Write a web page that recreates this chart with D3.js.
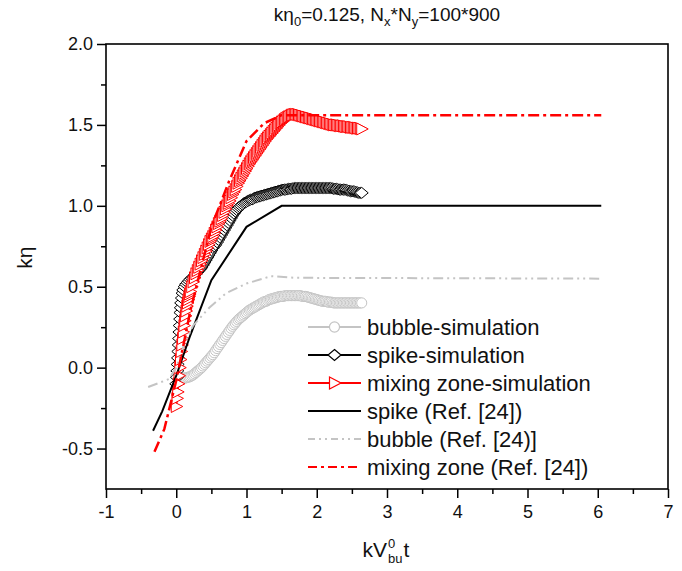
<!DOCTYPE html>
<html>
<head>
<meta charset="utf-8">
<script src="https://cdn.jsdelivr.net/npm/d3@7"></script>
<style>
  body { margin: 0; background: #fff; }
  svg { font-family: "Liberation Sans", Arial, sans-serif; }
</style>
</head>
<body>
<div id="chart"></div>
<script>
// ---- data ----
var xMajor = [-1, 0, 1, 2, 3, 4, 5, 6, 7];
var xMinor = [-0.5, 0.5, 1.5, 2.5, 3.5, 4.5, 5.5, 6.5];
var yMajor = [-0.5, 0.0, 0.5, 1.0, 1.5, 2.0];
var yMinor = [-0.25, 0.25, 0.75, 1.25, 1.75];

// common time samples of the simulations (after the start-up part)
var simT = [0.22,0.24,0.26,0.28,0.30,0.32,0.34,0.36,0.38,0.40,
  0.42,0.44,0.46,0.48,0.50,0.52,0.54,0.56,0.58,0.60,
  0.62,0.64,0.66,0.68,0.70,0.72,0.74,0.76,0.78,0.80,
  0.82,0.84,0.86,0.88,0.90,0.92,0.94,0.96,0.98,1.00,
  1.02,1.04,1.06,1.08,1.10,1.12,1.14,1.16,1.18,1.20,
  1.22,1.24,1.26,1.28,1.30,1.32,1.34,1.36,1.38,1.40,
  1.42,1.44,1.46,1.48,1.50,1.52,1.54,1.56,1.58,1.60,
  1.62,1.64,1.66,1.68,1.70,1.72,1.74,1.76,1.78,1.80,
  1.82,1.84,1.86,1.88,1.90,1.92,1.94,1.96,1.98,2.00,
  2.02,2.04,2.06,2.08,2.10,2.12,2.14,2.16,2.18,2.20,
  2.22,2.24,2.26,2.28,2.30,2.32,2.34,2.36,2.38,2.40,
  2.42,2.44,2.46,2.48,2.50,2.52,2.54,2.56,2.58,2.60,
  2.62,2.64];

var bubbleEarlyT = [0.00,0.02,0.04,0.06,0.08,0.10,0.12,0.14,0.16,0.18,0.20];
var bubbleSimY = [-0.05,-0.055,-0.06,-0.062,-0.065,-0.065,-0.065,-0.063,-0.06,-0.058,
  -0.055,-0.05,-0.045,-0.038,-0.03,-0.022,-0.015,-0.008,0.00,0.01,
  0.02,0.03,0.04,0.05,0.06,0.07,0.08,0.092,0.105,0.118,
  0.13,0.143,0.155,0.168,0.18,0.193,0.205,0.218,0.23,0.243,
  0.255,0.265,0.275,0.285,0.295,0.303,0.31,0.318,0.325,0.333,
  0.34,0.348,0.355,0.36,0.365,0.37,0.375,0.38,0.385,0.39,
  0.395,0.40,0.405,0.408,0.41,0.415,0.42,0.423,0.425,0.428,
  0.43,0.433,0.435,0.438,0.44,0.44,0.44,0.443,0.445,0.445,
  0.445,0.445,0.445,0.445,0.445,0.445,0.445,0.445,0.445,0.443,
  0.44,0.44,0.44,0.438,0.435,0.433,0.43,0.428,0.425,0.423,
  0.42,0.418,0.415,0.413,0.41,0.41,0.41,0.408,0.405,0.405,
  0.405,0.403,0.40,0.40,0.40,0.40,0.40,0.40,0.40,0.40,
  0.40,0.40,0.40,0.40,0.40,0.40,0.40,0.40,0.40,0.40,
  0.40,0.40,0.40];

var spikeEarlyT = [0.00,0.01,0.015,0.02,0.025,0.03,0.035,0.04,0.045,0.05,
  0.055,0.06,0.065,0.07,0.08,0.09,0.10,0.12,0.14,0.16,
  0.18,0.20];
var spikeSimY = [-0.10,-0.06,-0.02,0.02,0.06,0.10,0.14,0.18,0.22,0.26,
  0.30,0.34,0.37,0.40,0.43,0.46,0.48,0.50,0.515,0.525,
  0.535,0.545,
  0.553,0.56,0.57,0.58,0.59,0.60,0.61,0.62,0.635,0.65,
  0.665,0.68,0.695,0.71,0.725,0.74,0.75,0.76,0.775,0.79,
  0.805,0.82,0.835,0.85,0.865,0.88,0.895,0.91,0.925,0.94,
  0.953,0.965,0.975,0.985,0.993,1.00,1.008,1.015,1.02,1.025,
  1.03,1.035,1.038,1.04,1.045,1.05,1.053,1.055,1.058,1.06,
  1.063,1.065,1.068,1.07,1.073,1.075,1.078,1.08,1.083,1.085,
  1.088,1.09,1.093,1.095,1.098,1.10,1.10,1.10,1.103,1.105,
  1.105,1.105,1.108,1.11,1.11,1.11,1.11,1.11,1.11,1.11,
  1.11,1.11,1.11,1.11,1.11,1.11,1.11,1.11,1.11,1.11,
  1.11,1.11,1.11,1.11,1.11,1.11,1.11,1.11,1.11,1.11,
  1.108,1.105,1.105,1.105,1.103,1.10,1.10,1.10,1.10,1.10,
  1.098,1.095,1.093,1.09,1.09,1.09,1.088,1.085,1.083,1.08,
  1.08,1.08];

var mixEarlyT = [0.00,0.01,0.02,0.03,0.04,0.05,0.06,0.07,0.08,0.09,
  0.10,0.11,0.12,0.13,0.14,0.15,0.16,0.17,0.18,0.19,
  0.20];
var mixSimY = [-0.24,-0.19,-0.15,-0.10,-0.05,0.00,0.05,0.10,0.14,0.18,
  0.22,0.26,0.29,0.32,0.35,0.38,0.40,0.42,0.44,0.455,
  0.47,
  0.50,0.53,0.555,0.58,0.60,0.62,0.64,0.66,0.68,0.70,
  0.72,0.74,0.76,0.78,0.795,0.81,0.83,0.85,0.87,0.89,
  0.905,0.92,0.94,0.96,0.98,1.00,1.015,1.03,1.05,1.07,
  1.085,1.10,1.12,1.14,1.155,1.17,1.185,1.20,1.215,1.23,
  1.245,1.26,1.273,1.285,1.298,1.31,1.323,1.335,1.348,1.36,
  1.373,1.385,1.398,1.41,1.42,1.43,1.44,1.45,1.46,1.47,
  1.48,1.49,1.50,1.51,1.518,1.525,1.533,1.54,1.545,1.55,
  1.555,1.56,1.563,1.565,1.565,1.565,1.563,1.56,1.558,1.555,
  1.553,1.55,1.548,1.545,1.543,1.54,1.538,1.535,1.533,1.53,
  1.528,1.525,1.523,1.52,1.518,1.515,1.513,1.51,1.508,1.505,
  1.503,1.50,1.50,1.50,1.498,1.495,1.495,1.495,1.493,1.49,
  1.49,1.49,1.488,1.485,1.485,1.485,1.483,1.48,1.48,1.48,
  1.478,1.475];

var spikeRefX = [-0.33, -0.20, 0.00, 0.20, 0.50, 1.00, 1.50, 6.05];
var spikeRefY = [-0.39, -0.27, -0.05, 0.20, 0.54, 0.87, 1.00, 1.00];

var bubbleRefX = [-0.40, -0.10, 0.00, 0.10, 0.24, 0.47, 0.71, 1.00, 1.35, 1.70, 6.05];
var bubbleRefY = [-0.12, -0.07, 0.00, 0.13, 0.26, 0.37, 0.46, 0.52, 0.565, 0.555, 0.55];

var mixRefX = [-0.31, -0.17, 0.00, 0.20, 0.50, 0.75, 1.00, 1.25, 1.50, 6.05];
var mixRefY = [-0.52, -0.38, -0.08, 0.35, 0.87, 1.15, 1.40, 1.51, 1.56, 1.56];

var legendLabels = ["bubble-simulation", "spike-simulation", "mixing zone-simulation",
  "spike (Ref. [24])", "bubble (Ref. [24)]", "mixing zone (Ref. [24])"];

// ---- layout ----
var W = 682, H = 571;
var plot = {left: 106, right: 668, top: 44, bottom: 489};

var svg = d3.select("#chart").append("svg")
    .attr("width", W)
    .attr("height", H);

var x = d3.scaleLinear().domain([-1, 7]).range([plot.left, plot.right]);
var y = d3.scaleLinear().domain([-0.75, 2.0]).range([plot.bottom, plot.top]);

var RED = "#ff0000", GRAY = "#c4c4c4", BLACK = "#000000";

var markerPath = {
    circle: d3.symbol().type(d3.symbolCircle).size(80)(),
    diamond: "M0,-5.5L6.5,0L0,5.5L-6.5,0Z",
    triangle: "M-5,-6L6.5,0L-5,6Z"
};

function zip(xs, ys) {
    return xs.map(function(v, i) { return [v, ys[i]]; });
}

var line = d3.line()
    .x(function(d) { return x(d[0]); })
    .y(function(d) { return y(d[1]); });

// axes
var gx = svg.append("g").attr("transform", "translate(0," + plot.bottom + ")");
gx.call(d3.axisBottom(x).tickValues(xMajor).tickSize(9).tickPadding(7)
    .tickFormat(function(d) { return String(d); }));
gx.append("g").call(d3.axisBottom(x).tickValues(xMinor).tickSize(5).tickFormat(""));

var gy = svg.append("g").attr("transform", "translate(" + plot.left + ",0)");
gy.call(d3.axisLeft(y).tickValues(yMajor).tickSize(9).tickPadding(4)
    .tickFormat(function(d) { return d.toFixed(1); }));
gy.append("g").call(d3.axisLeft(y).tickValues(yMinor).tickSize(5).tickFormat(""));

svg.selectAll(".domain").remove();
svg.selectAll(".tick line").attr("stroke", BLACK).attr("stroke-width", 1.5);
svg.selectAll(".tick text")
    .style("font-family", "'Liberation Sans', Arial, sans-serif")
    .style("font-size", "18px")
    .attr("fill", "#111");

// simulation series: line + open markers
function drawSim(xs, ys, color, shape) {
    var pts = zip(xs, ys);
    svg.append("path")
        .datum(pts)
        .attr("d", line)
        .attr("fill", "none")
        .attr("stroke", color)
        .attr("stroke-width", 2);
    svg.append("g").selectAll("path")
        .data(pts)
        .enter().append("path")
        .attr("d", markerPath[shape])
        .attr("transform", function(d) { return "translate(" + x(d[0]) + "," + y(d[1]) + ")"; })
        .attr("fill", "#fff")
        .attr("stroke", color)
        .attr("stroke-width", 1);
}

function drawRef(xs, ys, color, dash, width) {
    svg.append("path")
        .datum(zip(xs, ys))
        .attr("d", line)
        .attr("fill", "none")
        .attr("stroke", color)
        .attr("stroke-width", width)
        .attr("stroke-dasharray", dash);
}

drawSim(bubbleEarlyT.concat(simT), bubbleSimY, GRAY, "circle");
drawSim(spikeEarlyT.concat(simT), spikeSimY, BLACK, "diamond");
drawSim(mixEarlyT.concat(simT), mixSimY, RED, "triangle");

drawRef(spikeRefX, spikeRefY, BLACK, null, 2);
drawRef(bubbleRefX, bubbleRefY, GRAY, "10,4,2,4,2,4", 2);
drawRef(mixRefX, mixRefY, RED, "11,4,3,4", 2.5);

// frame
svg.append("rect")
    .attr("x", plot.left).attr("y", plot.top)
    .attr("width", plot.right - plot.left).attr("height", plot.bottom - plot.top)
    .attr("fill", "none").attr("stroke", BLACK).attr("stroke-width", 1.6);

// legend
var legendStyle = [
    {color: GRAY, dash: null, marker: "circle"},
    {color: BLACK, dash: null, marker: "diamond"},
    {color: RED, dash: null, marker: "triangle"},
    {color: BLACK, dash: null, marker: null},
    {color: GRAY, dash: "7,4,2,4,2,4", marker: null},
    {color: RED, dash: "9,4,3,4", marker: null}
];
var legendY = d3.scaleLinear().domain([0, 5]).range([327, 467]);
var leg = svg.append("g").selectAll("g")
    .data(legendLabels)
    .enter().append("g")
    .attr("transform", function(d, i) { return "translate(0," + legendY(i) + ")"; });

leg.append("line")
    .attr("x1", 308).attr("x2", 361)
    .attr("stroke", function(d, i) { return legendStyle[i].color; })
    .attr("stroke-width", 2)
    .attr("stroke-dasharray", function(d, i) { return legendStyle[i].dash; });

leg.filter(function(d, i) { return legendStyle[i].marker; })
    .append("path")
    .attr("transform", "translate(334.5,0)")
    .attr("d", function(d) { return markerPath[legendStyle[legendLabels.indexOf(d)].marker]; })
    .attr("fill", "#fff")
    .attr("stroke", function(d) { return legendStyle[legendLabels.indexOf(d)].color; })
    .attr("stroke-width", 1.2);

leg.append("text")
    .attr("x", 367)
    .attr("dy", "0.35em")
    .style("font-size", "22px")
    .attr("fill", "#111")
    .text(function(d) { return d; });

// title with subscripts
var title = svg.append("text")
    .attr("x", 387).attr("y", 21)
    .attr("text-anchor", "middle")
    .style("font-size", "19px")
    .attr("fill", "#111");
function sub(t, txt) {
    t.append("tspan").attr("dy", 5).style("font-size", "13px").text(txt);
}
title.append("tspan").text("kη");
sub(title, "0");
title.append("tspan").attr("dy", -5).text("=0.125, N");
sub(title, "x");
title.append("tspan").attr("dy", -5).text("*N");
sub(title, "y");
title.append("tspan").attr("dy", -5).text("=100*900");

// y axis label
svg.append("text")
    .attr("transform", "translate(32," + y(0.68) + ") rotate(-90)")
    .attr("text-anchor", "middle")
    .style("font-size", "21px")
    .attr("fill", "#111")
    .text("kη");

// x axis label: kV with stacked 0 / bu, then t
var xl = svg.append("g");
var base = xl.append("text").attr("x", 0).attr("y", 0).style("font-size", "21px").attr("fill", "#111").text("kV");
var w0 = base.node().getComputedTextLength();
var sup = xl.append("text").attr("x", w0 + 1).attr("y", -9).style("font-size", "13px").attr("fill", "#111").text("0");
var sb = xl.append("text").attr("x", w0 + 1).attr("y", 6).style("font-size", "13px").attr("fill", "#111").text("bu");
var w1 = Math.max(sup.node().getComputedTextLength(), sb.node().getComputedTextLength());
var tt = xl.append("text").attr("x", w0 + w1 + 2).attr("y", 0).style("font-size", "21px").attr("fill", "#111").text("t");
var total = w0 + w1 + 2 + tt.node().getComputedTextLength();
xl.attr("transform", "translate(" + (386 - total / 2) + ",557)");
</script>
</body>
</html>
